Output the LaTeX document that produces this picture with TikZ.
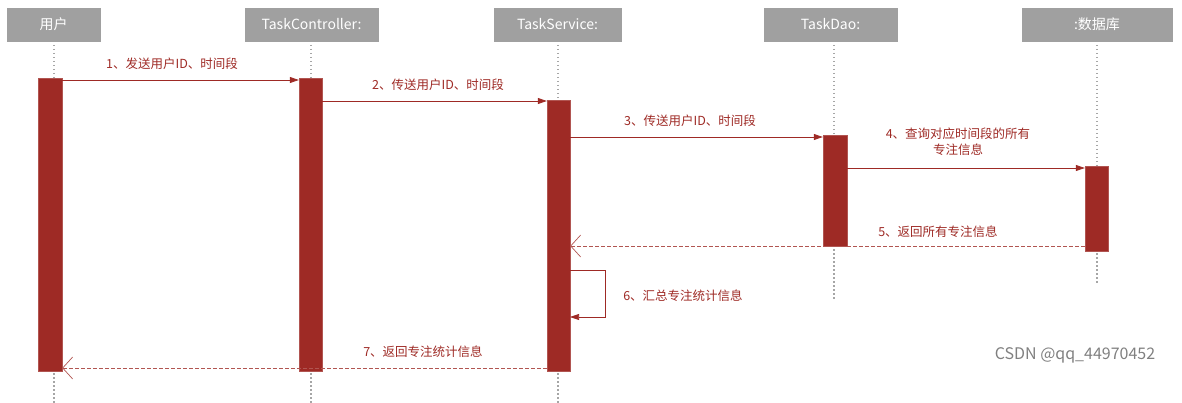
\documentclass[tikz,border=0pt]{standalone}
\usepackage{fontspec}
\setmainfont{Noto Sans CJK SC}
\usetikzlibrary{arrows.meta}
\definecolor{act}{HTML}{9E2A25}
\definecolor{hdr}{HTML}{A0A0A0}
\begin{document}
\begin{tikzpicture}[x=1pt,y=-1pt,
  hd/.style={fill=hdr,draw=hdr},
  ht/.style={text=white,font=\fontsize{14}{16}\selectfont},
  life/.style={draw=gray!70,line width=1.4pt,dash pattern=on 1.5pt off 2.5pt},
  ac/.style={fill=act,draw=act!80},
  msg/.style={draw=act,line width=0.8pt,-{Triangle[length=9pt,width=6pt]}},
  ret/.style={draw=act!80,line width=0.7pt,dash pattern=on 4pt off 2pt,-{Straight Barb[length=10pt,width=22pt]}},
  lb/.style={text=act,font=\fontsize{12.5}{16}\selectfont,align=center}]
\useasboundingbox (0,0) rectangle (1182,403);
% lifelines
\draw[life] (54,41) -- (54,403);
\draw[life] (311,41) -- (311,403);
\draw[life] (558,41) -- (558,403);
\draw[life] (834,41) -- (834,300);
\draw[life] (1097,41) -- (1097,285);
% headers
\path[hd] (7,8) rectangle (100,41); \node[ht] (h1) at (53.5,24.5) {用户};
\path[hd] (245,8) rectangle (378,41); \node[ht] (h2) at (311.5,24.5) {TaskController:};
\path[hd] (494,8) rectangle (621,41); \node[ht] (h3) at (557.5,24.5) {TaskService:};
\path[hd] (764,8) rectangle (897,41); \node[ht] (h4) at (830.5,24.5) {TaskDao:};
\path[hd] (1022,8) rectangle (1172,41); \node[ht] (h5) at (1097,24.5) {:数据库};
% activations
\node[ac,minimum width=24pt,minimum height=293pt,inner sep=0pt] (a1) at (50,224.5) {};
\node[ac,minimum width=23pt,minimum height=293pt,inner sep=0pt] (a2) at (310.5,224.5) {};
\node[ac,minimum width=23pt,minimum height=271pt,inner sep=0pt] (a3) at (558.5,235.5) {};
\node[ac,minimum width=24pt,minimum height=111pt,inner sep=0pt] (a4) at (835,190.5) {};
\node[ac,minimum width=23pt,minimum height=85pt,inner sep=0pt] (a5) at (1096.5,208.5) {};
\coordinate (s1) at (570,270); \coordinate (s2) at (605,270); \coordinate (s3) at (605,317); \coordinate (s4) at (570,317);
% messages
\draw[msg] (a1.east |- 0,80) -- (a2.west |- 0,80);
\node[lb] (l1) at (172,64) {1、发送用户ID、时间段};
\draw[msg] (a2.east |- 0,101) -- (a3.west |- 0,101);
\node[lb] (l2) at (438,85) {2、传送用户ID、时间段};
\draw[msg] (a3.east |- 0,137) -- (a4.west |- 0,137);
\node[lb] (l3) at (690,121) {3、传送用户ID、时间段};
\draw[msg] (a4.east |- 0,168) -- (a5.west |- 0,168);
\node[lb] (l4) at (958,142) {4、查询对应时间段的所有\\专注信息};
\draw[ret] (a5.west |- 0,246) -- (a3.east |- 0,246);
\node[lb] (l5) at (938,232) {5、返回所有专注信息};
\draw[msg,line width=0.6pt] (s1) -- (s2) -- (s3) -- (s4);
\node[lb] (l6) at (683,296) {6、汇总专注统计信息};
\draw[ret] (a3.west |- 0,368) -- (a1.east |- 0,368);
\node[lb] (l7) at (423,352) {7、返回专注统计信息};
\node[text=gray,font=\fontsize{16}{18}\selectfont] (wm) at (1075,355) {CSDN @qq\_44970452};
\end{tikzpicture}
\end{document}
